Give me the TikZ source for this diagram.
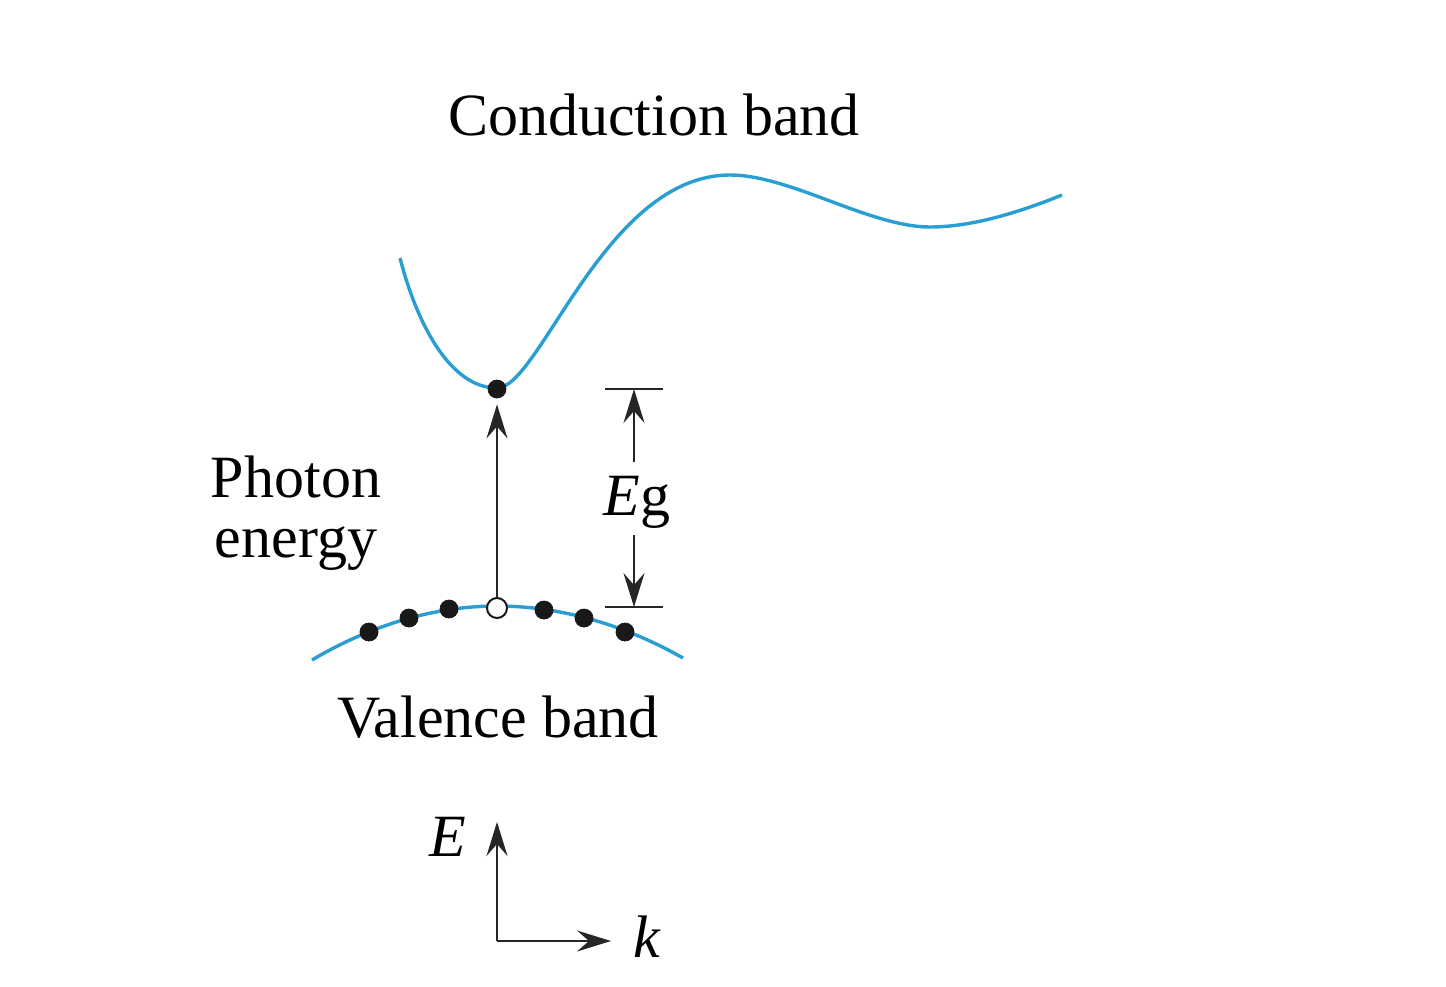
\documentclass[tikz,border=0pt]{standalone}
\usepackage{fontspec}
\setmainfont{Liberation Serif}
\usetikzlibrary{arrows.meta}
\definecolor{bandblue}{RGB}{40,158,210}
\tikzset{
  band/.style={draw=bandblue, line width=1.7pt},
  blk/.style={draw=black!85, line width=1.2pt},
  arr/.style={blk, -{Stealth[length=17pt, width=10.5pt, inset=6pt]}},
  elec/.style={circle, fill=black!90, draw=black!90, inner sep=0pt, minimum size=9pt},
  hole/.style={circle, fill=white, draw=black!90, line width=1pt, inner sep=0pt, minimum size=10pt},
  lbl/.style={font=\fontsize{30}{36}\selectfont, inner sep=0pt, anchor=base}
}
\begin{document}
\begin{tikzpicture}[x=0.5pt, y=-0.5pt]
\useasboundingbox (0,0) rectangle (1446,986);
% conduction band
\draw[band] (400,258) .. controls (418,328) and (452,388) .. (497,388)
  .. controls (540,388) and (605,175) .. (730,175)
  .. controls (790,175) and (870,227) .. (930,227)
  .. controls (975,227) and (1025,210) .. (1062,195);
% valence band
\draw[band] (312,660) parabola bend (497,606) (683,658);
% electrons and hole
\node[elec] (c0) at (497,389) {};
\node[hole] (h0) at (497,608) {};
\node[elec] (v1) at (369,632) {};
\node[elec] (v2) at (409,618) {};
\node[elec] (v3) at (449,609) {};
\node[elec] (v4) at (544,610) {};
\node[elec] (v5) at (584,618) {};
\node[elec] (v6) at (625,632) {};
% photon arrow
\draw[arr, shorten >=3pt] (h0) -- (c0);
% Eg dimension
\coordinate (t1) at (605,389); \coordinate (t2) at (663,389);
\coordinate (b1) at (605,607); \coordinate (b2) at (663,607);
\draw[blk] (t1) -- (t2);
\draw[blk] (b1) -- (b2);
\coordinate (eTop) at (634,389); \coordinate (eBot) at (634,607);
\coordinate (aTop) at (634,462); \coordinate (aBot) at (634,535);
\draw[arr] (aTop) -- (eTop);
\draw[arr] (aBot) -- (eBot);
\node[lbl] (eg) at (637,515) {\textit{E}g};
% labels
\node[lbl] (cb) at (654,135) {Conduction band};
\node[lbl] (ph1) at (296,497) {Photon};
\node[lbl] (ph2) at (296,557) {energy};
\node[lbl] (vb) at (498,737) {Valence band};
% axes
\coordinate (o) at (497,941);
\coordinate (ey) at (497,822);
\coordinate (kx) at (611,941);
\draw[arr] (o) -- (ey);
\draw[arr] (o) -- (kx);
\node[lbl] (E) at (448,856) {\textit{E}};
\node[lbl] (k) at (647,957) {\textit{k}};
\end{tikzpicture}
\end{document}
